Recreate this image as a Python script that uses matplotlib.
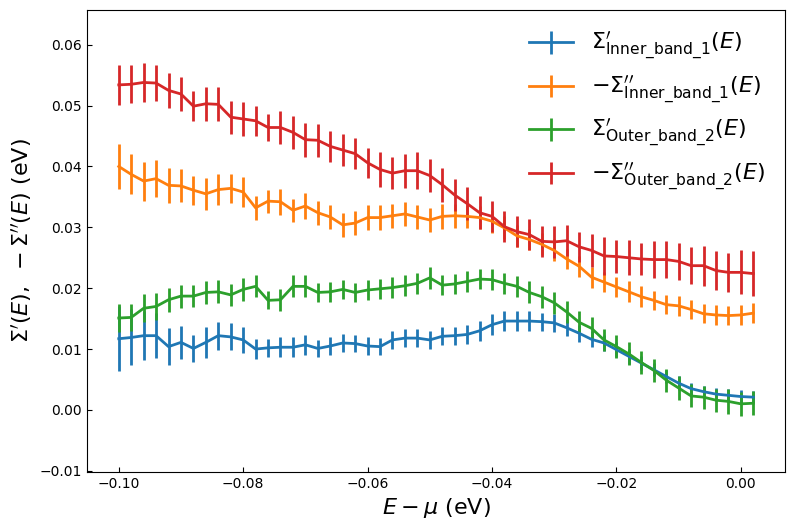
import matplotlib.pyplot as plt
import numpy as np

# energy grid E - mu (eV)
energy = np.round(np.arange(-0.100, 0.0021, 0.002), 3)

# Sigma' inner band 1
re_inner = [0.0117, 0.0119, 0.0122, 0.0122, 0.0104, 0.0111, 0.0101, 0.0111, 0.0122, 0.0120,
            0.0115, 0.0100, 0.0102, 0.0103, 0.0103, 0.0107, 0.0101, 0.0105, 0.0110, 0.0109,
            0.0105, 0.0104, 0.0115, 0.0118, 0.0118, 0.0115, 0.0121, 0.0122, 0.0124, 0.0130,
            0.0140, 0.0146, 0.0146, 0.0146, 0.0145, 0.0143, 0.0135, 0.0126, 0.0116, 0.0110,
            0.0099, 0.0088, 0.0077, 0.0066, 0.0055, 0.0044, 0.0035, 0.0030, 0.0026, 0.0024,
            0.0022, 0.0021]
re_inner_err = [0.0053, 0.0046, 0.0040, 0.0037, 0.0031, 0.0027, 0.0022, 0.0025, 0.0023, 0.0022,
                0.0021, 0.0017, 0.0015, 0.0016, 0.0016, 0.0016, 0.0014, 0.0014, 0.0015, 0.0014,
                0.0014, 0.0014, 0.0015, 0.0015, 0.0015, 0.0015, 0.0015, 0.0015, 0.0015, 0.0016,
                0.0017, 0.0016, 0.0016, 0.0016, 0.0015, 0.0015, 0.0014, 0.0014, 0.0013, 0.0013,
                0.0012, 0.0012, 0.0012, 0.0011, 0.0011, 0.0011, 0.0010, 0.0010, 0.0010, 0.0010,
                0.0010, 0.0010]

# -Sigma'' inner band 1
im_inner = [0.0400, 0.0387, 0.0376, 0.0380, 0.0369, 0.0368, 0.0361, 0.0355, 0.0362, 0.0364,
            0.0358, 0.0332, 0.0343, 0.0342, 0.0328, 0.0335, 0.0324, 0.0317, 0.0304, 0.0307,
            0.0316, 0.0316, 0.0319, 0.0322, 0.0317, 0.0312, 0.0318, 0.0319, 0.0318, 0.0316,
            0.0310, 0.0299, 0.0286, 0.0280, 0.0272, 0.0262, 0.0248, 0.0236, 0.0218, 0.0210,
            0.0202, 0.0194, 0.0186, 0.0180, 0.0173, 0.0171, 0.0165, 0.0158, 0.0156, 0.0155,
            0.0156, 0.0159]
im_inner_err = [0.0037, 0.0033, 0.0032, 0.0030, 0.0029, 0.0027, 0.0024, 0.0026, 0.0026, 0.0024,
                0.0024, 0.0020, 0.0019, 0.0021, 0.0019, 0.0021, 0.0020, 0.0020, 0.0020, 0.0020,
                0.0020, 0.0020, 0.0020, 0.0020, 0.0020, 0.0019, 0.0020, 0.0020, 0.0019, 0.0019,
                0.0019, 0.0019, 0.0018, 0.0018, 0.0018, 0.0018, 0.0017, 0.0017, 0.0017, 0.0017,
                0.0017, 0.0017, 0.0017, 0.0016, 0.0016, 0.0016, 0.0016, 0.0016, 0.0016, 0.0016,
                0.0016, 0.0016]

# Sigma' outer band 2
re_outer = [0.0151, 0.0152, 0.0167, 0.0170, 0.0181, 0.0187, 0.0187, 0.0193, 0.0194, 0.0189,
            0.0198, 0.0203, 0.0180, 0.0181, 0.0203, 0.0203, 0.0193, 0.0194, 0.0198, 0.0193,
            0.0197, 0.0199, 0.0201, 0.0204, 0.0208, 0.0217, 0.0205, 0.0207, 0.0211, 0.0215,
            0.0214, 0.0208, 0.0203, 0.0193, 0.0186, 0.0176, 0.0161, 0.0144, 0.0134, 0.0115,
            0.0104, 0.0092, 0.0078, 0.0065, 0.0049, 0.0036, 0.0023, 0.0021, 0.0016, 0.0014,
            0.0010, 0.0011]
re_outer_err = [0.0023, 0.0022, 0.0023, 0.0022, 0.0020, 0.0019, 0.0018, 0.0019, 0.0019, 0.0018,
                0.0019, 0.0018, 0.0015, 0.0018, 0.0018, 0.0018, 0.0016, 0.0016, 0.0016, 0.0016,
                0.0016, 0.0016, 0.0017, 0.0017, 0.0017, 0.0018, 0.0017, 0.0017, 0.0017, 0.0017,
                0.0017, 0.0017, 0.0017, 0.0018, 0.0018, 0.0018, 0.0018, 0.0018, 0.0018, 0.0018,
                0.0019, 0.0019, 0.0019, 0.0019, 0.0019, 0.0019, 0.0019, 0.0019, 0.0019, 0.0020,
                0.0020, 0.0020]

# -Sigma'' outer band 2
im_outer = [0.0534, 0.0535, 0.0538, 0.0537, 0.0525, 0.0519, 0.0499, 0.0503, 0.0502, 0.0481,
            0.0478, 0.0475, 0.0464, 0.0464, 0.0456, 0.0444, 0.0443, 0.0433, 0.0427, 0.0421,
            0.0406, 0.0395, 0.0389, 0.0393, 0.0393, 0.0385, 0.0370, 0.0353, 0.0339, 0.0324,
            0.0318, 0.0301, 0.0293, 0.0288, 0.0277, 0.0276, 0.0278, 0.0268, 0.0262, 0.0253,
            0.0252, 0.0250, 0.0248, 0.0247, 0.0247, 0.0244, 0.0237, 0.0237, 0.0229, 0.0226,
            0.0226, 0.0224]
im_outer_err = [0.0033, 0.0031, 0.0032, 0.0030, 0.0029, 0.0028, 0.0025, 0.0028, 0.0028, 0.0027,
                0.0028, 0.0025, 0.0022, 0.0027, 0.0027, 0.0028, 0.0027, 0.0025, 0.0026, 0.0025,
                0.0025, 0.0028, 0.0026, 0.0028, 0.0030, 0.0027, 0.0028, 0.0027, 0.0027, 0.0027,
                0.0025, 0.0025, 0.0025, 0.0025, 0.0025, 0.0026, 0.0025, 0.0025, 0.0027, 0.0031,
                0.0027, 0.0029, 0.0026, 0.0030, 0.0030, 0.0031, 0.0030, 0.0033, 0.0032, 0.0032,
                0.0036, 0.0037]

labels = [r"$\Sigma^{\prime}_{\mathrm{Inner\_band\_1}}(E)$",
          r"$-\Sigma^{\prime\prime}_{\mathrm{Inner\_band\_1}}(E)$",
          r"$\Sigma^{\prime}_{\mathrm{Outer\_band\_2}}(E)$",
          r"$-\Sigma^{\prime\prime}_{\mathrm{Outer\_band\_2}}(E)$"]

fig = plt.figure(figsize=(7.94, 5.30), dpi=100)
ax = fig.add_axes([0.1096, 0.1094, 0.8791, 0.8717])

series = [(re_inner, re_inner_err), (im_inner, im_inner_err),
          (re_outer, re_outer_err), (im_outer, im_outer_err)]
for (vals, errs), lab in zip(series, labels):
    ax.errorbar(energy, vals, yerr=errs, lw=2, elinewidth=2, label=lab)

ax.set_ylim(-0.0102, 0.0657)
ax.set_xlabel(r"$E-\mu$ (eV)", fontsize=16)
ax.set_ylabel(r"$\Sigma'(E),\ -\Sigma''(E)$ (eV)", fontsize=16)
ax.tick_params(direction="in", labelsize=10)
ax.legend(fontsize=16, frameon=False, loc="upper right")

fig.savefig("out.png", dpi=100)
